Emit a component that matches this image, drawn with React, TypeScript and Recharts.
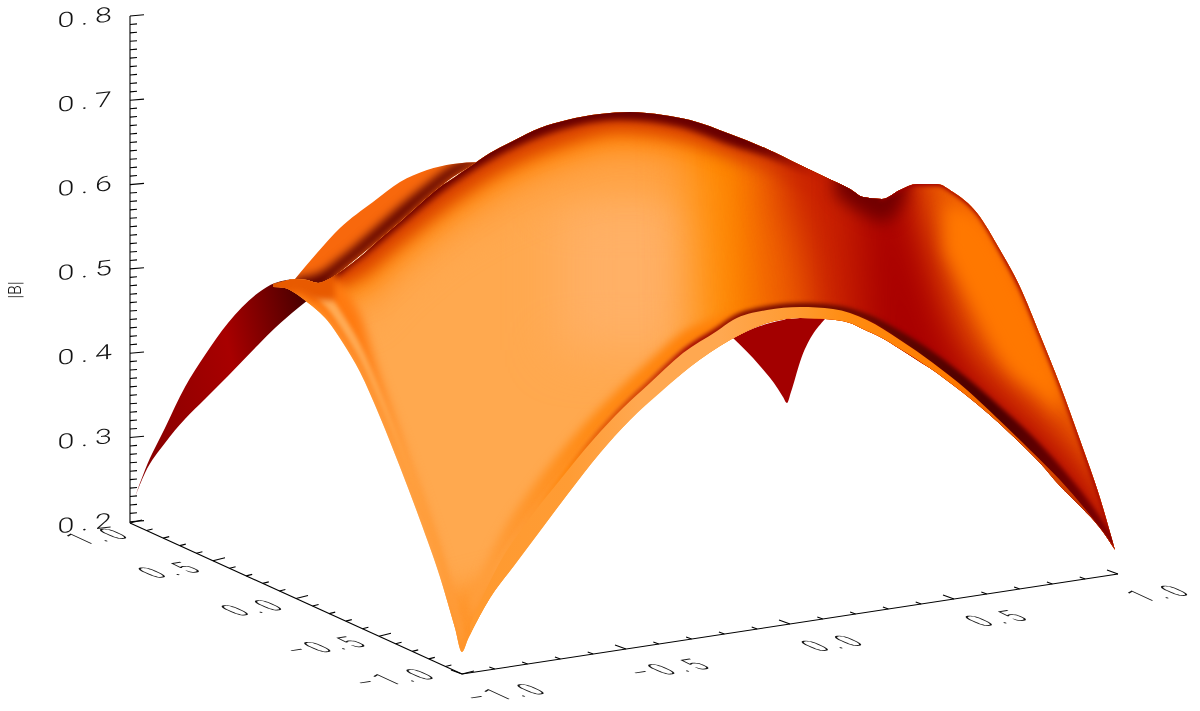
import { Area, ComposedChart, Line, XAxis, YAxis } from 'recharts';

// everything below as (screen column, screen row)
const yMajorValues = [0.2, 0.3, 0.4, 0.5, 0.6, 0.7, 0.8];
const floorValues = [1, 0.9, 0.8, 0.7, 0.6, 0.5, 0.4, 0.3, 0.2, 0.1, 0, -0.1, -0.2, -0.3, -0.4, -0.5, -0.6, -0.7, -0.8, -0.9, -1];
const floorLabels = ['1.0', '0.5', '0.0', '-0.5', '-1.0'];
const leftLabelValues = [1, 0.5, 0, -0.5, -1];

// main sheet
const mainX = [273, 285, 295, 307, 318, 327, 343, 360, 380, 400, 420, 440, 455, 462, 468, 490, 513, 540, 567, 600, 630, 663, 690, 730, 767, 800, 825, 850, 863, 882, 900, 917, 937, 953, 977, 1000, 1020, 1040, 1060, 1080, 1100, 1115];
const mainTop = [284, 281, 279, 280, 283, 280, 270, 257, 239, 222, 204, 187, 177, 172, 168, 153, 141, 128, 120, 114, 112, 115, 120, 134, 149, 165, 177, 189, 197, 199, 190, 184, 184, 192, 213, 250, 287, 335, 385, 440, 498, 550];
const mainBottom = [287, 288, 293, 302, 311, 320, 343, 372, 417, 467, 520, 577, 628, 652, 639, 598, 567, 531, 495, 453, 420, 390, 367, 340, 323, 318, 319, 323, 329, 338, 349, 360, 373, 385, 404, 424, 443, 463, 486, 506, 528, 550];

// left wing behind the sheet
const wingX = [135, 145, 165, 185, 205, 228, 258, 275, 298, 308];
const wingTop = [497, 470, 428, 387, 355, 323, 293, 283, 279, 282];
const wingBottom = [497, 473, 443, 419, 399, 376, 345, 328, 308, 300];

// back hump
const humpX = [295, 317, 340, 373, 400, 427, 453, 480];
const humpTop = [279, 253, 228, 202, 182, 170, 164, 162];
const humpBottom = [290, 290, 272, 245, 222, 198, 177, 162];
const humpShade = [278, 274, 258, 230, 206, 184, 165, 156];

// far corner seen under the arch
const cornerX = [733, 760, 778, 783, 787, 791, 800, 825];
const cornerTop = [338, 326, 321, 320, 319, 319, 318, 319];
const cornerBottom = [338, 366, 389, 397, 403, 392, 362, 319];

// shading along the top ridge
const ridgeX = [270, 320, 360, 400, 450, 500, 560, 620, 680, 730, 770, 820, 880];
const ridgeSky = [100, 100, 100, 100, 100, 100, 100, 100, 100, 100, 100, 100, 100];
const ridgePale = [290, 320, 325, 290, 250, 222, 198, 188, 198, 240, 275, 300, 300];
const ridgeOrange = [295, 298, 292, 258, 218, 186, 160, 146, 152, 178, 196, 225, 245];
const ridgeRed = [288, 290, 277, 245, 205, 172, 146, 132, 140, 158, 172, 198, 225];
const ridgeDark = [283, 283, 259, 226, 186, 155, 130, 120, 127, 145, 158, 180, 205];

// shading on the right half
const fadeX = [695, 715, 1125];
const fadeTop = [100, 100, 100];
const fadeBottom = [200, 700, 700];
const burntX = [745, 785, 1125];
const burntTop = [100, 100, 100];
const burntBottom = [160, 700, 700];
const redX = [785, 810, 835, 905, 915, 928, 945, 965, 1005, 1060, 1100, 1125];
const redTop = [100, 100, 100, 100, 195, 250, 300, 345, 385, 440, 490, 550];
const redBottom = [200, 300, 700, 700, 700, 700, 700, 700, 700, 700, 700, 700];
const deepX = [860, 885, 895, 910, 925, 950, 990, 1040, 1073, 1100, 1125];
const deepTop = [100, 100, 100, 205, 260, 335, 395, 440, 480, 515, 560];
const deepBottom = [210, 700, 700, 700, 700, 700, 700, 700, 700, 700, 700];
const saddleX = [835, 860, 885, 905];
const saddleTop = [100, 100, 100, 100];
const saddleBottom = [195, 212, 222, 198];
const highlightX = [945, 975, 1005, 1040, 1060];
const highlightTop = [205, 215, 255, 330, 380];
const highlightBottom = [250, 310, 365, 395, 415];
const edgeX = [880, 900, 917, 937, 953, 977, 1000, 1020, 1040, 1060, 1080, 1100, 1115];
const edgeTop = [190, 180, 175, 175, 183, 204, 241, 278, 326, 376, 431, 489, 542];
const edgeBottom = [201, 192, 186, 186, 194, 215, 253, 291, 339, 389, 445, 503, 554];

// fold along the arch
const creaseX = [470, 500, 530, 560, 593, 623, 650, 683, 717, 733, 767, 800, 833, 867, 900, 933, 967, 997, 1030, 1060, 1090, 1115];
const creaseRow = [625, 562, 518, 480, 440, 408, 383, 353, 331, 320, 310, 307, 309, 320, 340, 363, 390, 418, 450, 480, 515, 548];
const creaseBelow = [636, 588, 547, 507, 463, 428, 400, 373, 349, 339, 323, 318, 321, 333, 349, 371, 398, 424, 455, 488, 520, 550];
const shadeX = [470, 500, 530, 560, 593, 623, 650, 683, 717, 733, 767];
const shadeTop = [598, 535, 490, 452, 415, 385, 360, 332, 318, 312, 310];
const shadeBottom = [625, 562, 518, 480, 440, 408, 383, 353, 331, 320, 310];
const foldX = [500, 530, 560, 593, 623, 650, 683, 717, 733, 767, 800, 833, 867, 900, 933, 967, 997, 1030, 1060, 1090, 1115];
const foldTop = [558, 514, 476, 436, 404, 379, 349, 327, 316, 306, 303, 305, 314, 331, 352, 378, 404, 434, 466, 503, 540];
const foldBottom = [565, 521, 483, 443, 411, 386, 356, 334, 323, 313, 310, 312, 321, 342, 366, 393, 421, 453, 483, 518, 548];

// fold along the front left edge
const frontX = [285, 307, 327, 343, 360, 380, 400, 420, 440, 462];
const frontEdge = [288, 302, 320, 343, 372, 417, 467, 520, 577, 652];
const frontShade = [262, 268, 275, 288, 315, 375, 430, 485, 545, 620];
const frontStripeTop = [274, 278, 292, 315, 344, 389, 439, 492, 549, 630];
const frontStripeBottom = [280, 290, 308, 331, 360, 405, 455, 508, 565, 645];
const capX = [273, 295, 318, 335];
const capTop = [270, 270, 270, 270];
const capBottom = [292, 292, 300, 300];
const glowX = [560, 700];
const glowTop = [200, 200];
const glowBottom = [350, 350];
const tipX = [420, 540];
const tipTop = [600, 570];
const tipBottom = [670, 670];

const TOP_ROW = 16;
const PX_PER_UNIT = 843;
const toB = (row: number) => 0.8 - (row - TOP_ROW) / PX_PER_UNIT;

const toTable = (xs: number[], tops: number[], bottoms: number[]) =>
  xs.map((x, i) => ({ x, band: [toB(bottoms[i]), toB(tops[i])] }));

// same monotone tangents the areas are drawn with, so clip outlines line up with them
const tangents = (xs: number[], ys: number[]) => {
  const n = xs.length;
  const sign = (v: number) => (v < 0 ? -1 : 1);
  const t = xs.map(() => 0);
  for (let i = 1; i < n - 1; i++) {
    const h0 = xs[i] - xs[i - 1];
    const h1 = xs[i + 1] - xs[i];
    const s0 = (ys[i] - ys[i - 1]) / h0;
    const s1 = (ys[i + 1] - ys[i]) / h1;
    const p = (s0 * h1 + s1 * h0) / (h0 + h1);
    t[i] = (sign(s0) + sign(s1)) * Math.min(Math.abs(s0), Math.abs(s1), 0.5 * Math.abs(p)) || 0;
  }
  t[0] = (3 * (ys[1] - ys[0])) / (xs[1] - xs[0]) / 2 - t[1] / 2;
  t[n - 1] = (3 * (ys[n - 1] - ys[n - 2])) / (xs[n - 1] - xs[n - 2]) / 2 - t[n - 2] / 2;
  return t;
};

const curveForward = (xs: number[], ys: number[]) => {
  const t = tangents(xs, ys);
  let d = '';
  for (let i = 1; i < xs.length; i++) {
    const dx = (xs[i] - xs[i - 1]) / 3;
    d += `C${xs[i - 1] + dx},${ys[i - 1] + dx * t[i - 1]},${xs[i] - dx},${ys[i] - dx * t[i]},${xs[i]},${ys[i]}`;
  }
  return d;
};

const clipShape = (id: string, xs: number[], tops: number[], bottoms: number[]) => {
  const rx = [...xs].reverse().map((x) => -x);
  const rb = [...bottoms].reverse();
  const back = curveForward(rx, rb).replace(/C([^C]*)/g, (_, s: string) => {
    const v = s.split(',').map(Number);
    return `C${-v[0]},${v[1]},${-v[2]},${v[3]},${-v[4]},${v[5]}`;
  });
  const d = `M${xs[0]},${tops[0]}${curveForward(xs, tops)}L${xs[xs.length - 1]},${rb[0]}${back}Z`;
  return (
    <clipPath id={id} key={id}>
      <path d={d} />
    </clipPath>
  );
};

const blurFilter = (size: number) => (
  <filter id={`blur${size}`} key={size} filterUnits="userSpaceOnUse" x="0" y="0" width="1200" height="711" colorInterpolationFilters="sRGB">
    <feGaussianBlur stdDeviation={size} />
  </filter>
);

const sheet = (
  name: string,
  xs: number[],
  tops: number[],
  bottoms: number[],
  fill: string,
  blur?: number,
  clip?: string,
) => (
  <Area
    key={name}
    data={toTable(xs, tops, bottoms)}
    dataKey="band"
    type="monotoneX"
    fill={fill}
    fillOpacity={1}
    stroke="none"
    dot={false}
    activeDot={false}
    isAnimationActive={false}
    style={{
      filter: blur ? `url(#blur${blur})` : undefined,
      clipPath: clip ? `url(#${clip})` : undefined,
    }}
  />
);

// floor axes, ends
const leftEnd = { x: 130, row: 523 };
const cornerEnd = { x: 462, row: 674 };
const rightEnd = { x: 1118, row: 574 };

const onLeft = (v: number) => ({
  x: leftEnd.x + ((1 - v) / 2) * (cornerEnd.x - leftEnd.x),
  row: leftEnd.row + ((1 - v) / 2) * (cornerEnd.row - leftEnd.row),
});
const onFront = (v: number) => ({
  x: cornerEnd.x + ((v + 1) / 2) * (rightEnd.x - cornerEnd.x),
  row: cornerEnd.row + ((v + 1) / 2) * (rightEnd.row - cornerEnd.row),
});
const isMajor = (v: number) => Math.abs(v * 2 - Math.round(v * 2)) < 1e-6;

const leftTicks = floorValues.flatMap((v) => {
  const p = onLeft(v);
  const len = isMajor(v) ? 1 : 0.5;
  return [
    { x: p.x, b: toB(p.row) },
    { x: p.x + 12 * len, b: toB(p.row - 3 * len) },
    { x: p.x, b: null },
  ];
});
const frontTicks = floorValues.flatMap((v) => {
  const p = onFront(v);
  const len = isMajor(v) ? 1 : 0.5;
  return [
    { x: p.x, b: toB(p.row) },
    { x: p.x - 11 * len, b: toB(p.row - 4 * len) },
    { x: p.x, b: null },
  ];
});
const leftLine = [1, -1].map((v) => ({ x: onLeft(v).x, b: toB(onLeft(v).row) }));
const frontLine = [-1, 1].map((v) => ({ x: onFront(v).x, b: toB(onFront(v).row) }));
const spine = [toB(523), 0.8].map((b) => ({ x: 130, b }));
const yMinorTicks = Array.from({ length: 60 }, (_, i) => i)
  .filter((i) => i % 10 !== 0)
  .flatMap((i) => {
    const b = 0.8 - i / 100;
    return [
      { x: 130, b },
      { x: 137, b: b + 0.6 / PX_PER_UNIT },
      { x: 130, b: null },
    ];
  });

const LEFT_NUDGE = [[-30, 13], [-41, 9], [-41, 9], [-52, 9.5], [-66, 4]];
const leftMarks = leftLabelValues.map((v, i) => ({ x: onLeft(v).x, b: toB(onLeft(v).row), label: floorLabels[i], dx: LEFT_NUDGE[i][0], dy: LEFT_NUDGE[i][1] }));
const frontMarks = [-1, -0.5, 0, 0.5, 1].map((v) => ({
  x: onFront(v).x,
  b: toB(onFront(v).row),
  label: v.toFixed(1),
  dx: v === 1 ? 43 : 45,
  dy: 19,
}));

const LABEL_FONT = 'Roboto, "Liberation Sans", sans-serif';

const FloorLabel = (props: any) => {
  const { cx, cy, payload, index } = props;
  if (cx == null || cy == null) return <g key={index} />;
  const m = `matrix(1.6 -0.24 1.9 0.86 ${cx + payload.dx} ${cy + payload.dy})`;
  return (
    <text key={index} transform={m} y={5.5} textAnchor="middle" fontFamily={LABEL_FONT} fontWeight={300} fontSize={16} letterSpacing={4} fill="#111" opacity={0.99}>
      {payload.label.replace('-', '\u2212')}
    </text>
  );
};

const YTick = (props: any) => {
  const { x, y, payload } = props;
  return (
    <g>
      <line x1={x} y1={y} x2={x + 14} y2={y - 1.2} stroke="#000" strokeWidth={1.1} />
      <text
        transform={`matrix(1.9 -0.22 0 1.3 88 ${y + 1})`}
        y={5.5}
        textAnchor="middle"
        fontFamily={LABEL_FONT}
        fontWeight={300}
        fontSize={16}
        letterSpacing={3.5}
        fill="#111"
        opacity={0.99}
      >
        {payload.value.toFixed(1)}
      </text>
    </g>
  );
};

const axisLine = (name: string, data: any[]) => (
  <Line key={name} data={data} dataKey="b" stroke="#000" strokeWidth={1.1} dot={false} activeDot={false} isAnimationActive={false} />
);

const App = () => {
  const mainClip = 'mainClip';
  const humpClip = 'humpClip';
  return (
    <div style={{ position: 'absolute', left: 0, top: 0, width: 1200, height: 711, background: '#fff' }}>
      <ComposedChart width={1200} height={711} margin={{ top: TOP_ROW, right: 0, bottom: 0, left: 0 }}>
        <defs>
          {[2, 3, 5, 8, 14, 20, 25].map(blurFilter)}
          {clipShape(mainClip, mainX, mainTop, mainBottom)}
          {clipShape(humpClip, humpX, humpTop, humpBottom)}
          <linearGradient id="wingFill" gradientUnits="userSpaceOnUse" x1="135" y1="380" x2="310" y2="340">
            <stop offset="0" stopColor="#8a0000" />
            <stop offset="0.55" stopColor="#a80000" />
            <stop offset="1" stopColor="#4e0000" />
          </linearGradient>
          <linearGradient id="rimFill" gradientUnits="userSpaceOnUse" x1="480" x2="1115" y1="0" y2="0">
            <stop offset="0" stopColor="#ff9a30" />
            <stop offset="0.14" stopColor="#ff9c34" />
            <stop offset="0.25" stopColor="#ffa850" />
            <stop offset="0.38" stopColor="#ffa850" />
            <stop offset="0.5" stopColor="#ff9a30" />
            <stop offset="0.58" stopColor="#ff8c10" />
            <stop offset="0.74" stopColor="#ff7a00" />
            <stop offset="0.87" stopColor="#e05000" />
            <stop offset="1" stopColor="#b02000" />
          </linearGradient>
          <linearGradient id="shadeFill" gradientUnits="userSpaceOnUse" x1="470" x2="767" y1="0" y2="0">
            <stop offset="0" stopColor="#ffa040" />
            <stop offset="0.4" stopColor="#ff8a14" />
            <stop offset="1" stopColor="#ff7a00" />
          </linearGradient>
          <linearGradient id="foldFill" gradientUnits="userSpaceOnUse" x1="500" x2="1115" y1="0" y2="0">
            <stop offset="0" stopColor="#ff9e3a" />
            <stop offset="0.06" stopColor="#ff9428" />
            <stop offset="0.11" stopColor="#ff8000" />
            <stop offset="0.16" stopColor="#e05000" />
            <stop offset="0.24" stopColor="#c83000" />
            <stop offset="0.31" stopColor="#a00000" />
            <stop offset="0.42" stopColor="#7a0c00" />
            <stop offset="0.8" stopColor="#4a0000" />
            <stop offset="1" stopColor="#800000" />
          </linearGradient>
          <linearGradient id="frontFill" gradientUnits="userSpaceOnUse" x1="0" x2="0" y1="320" y2="640">
            <stop offset="0" stopColor="#ff7a10" />
            <stop offset="0.45" stopColor="#ff9a38" />
            <stop offset="1" stopColor="#ff9c3a" />
          </linearGradient>
          <linearGradient id="stripeFill" gradientUnits="userSpaceOnUse" x1="0" x2="0" y1="330" y2="640">
            <stop offset="0" stopColor="#ffab55" />
            <stop offset="0.4" stopColor="#ffa040" />
            <stop offset="1" stopColor="#ff9a35" />
          </linearGradient>
        </defs>
        <XAxis type="number" dataKey="x" domain={[130, 1200]} hide />
        <YAxis
          type="number"
          width={130}
          domain={[toB(711), 0.8]}
          ticks={yMajorValues}
          interval={0}
          axisLine={false}
          tickLine={false}
          tickSize={0}
          tickMargin={0}
          tick={<YTick />}
          label={() => (
            <text transform="translate(21 290) rotate(-90) scale(1 1.2)" textAnchor="middle" fontFamily={LABEL_FONT} fontWeight={300} fontSize={16} fill="#111" opacity={0.99}>
              |B|
            </text>
          )}
        />

        {axisLine('spine', spine)}
        {axisLine('yMinor', yMinorTicks)}
        {axisLine('leftLine', leftLine)}
        {axisLine('frontLine', frontLine)}
        {axisLine('leftTicks', leftTicks)}
        {axisLine('frontTicks', frontTicks)}

        {sheet('wing', wingX, wingTop, wingBottom, 'url(#wingFill)')}
        {sheet('hump', humpX, humpTop, humpBottom, '#f8680c')}
        {sheet('humpShade', humpX, humpShade, humpBottom, '#5a0000', 5, humpClip)}
        {sheet('corner', cornerX, cornerTop, cornerBottom, '#a30000')}

        {sheet('main', mainX, mainTop, mainBottom, '#ffa94f')}
        {sheet('glow', glowX, glowTop, glowBottom, '#ffb066', 25, mainClip)}
        {sheet('tip', tipX, tipTop, tipBottom, '#ff9428', 14, mainClip)}
        {sheet('ridgePale', ridgeX, ridgeSky, ridgePale, '#ffa244', 14, mainClip)}
        {sheet('ridgeOrange', ridgeX, ridgeSky, ridgeOrange, '#ff8000', 14, mainClip)}
        {sheet('fade', fadeX, fadeTop, fadeBottom, '#ff8a00', 25, mainClip)}
        {sheet('burnt', burntX, burntTop, burntBottom, '#f06000', 20, mainClip)}
        {sheet('ridgeRed', ridgeX, ridgeSky, ridgeRed, '#d84000', 8, mainClip)}
        {sheet('ridgeDark', ridgeX, ridgeSky, ridgeDark, '#6a0000', 3, mainClip)}
        {sheet('red', redX, redTop, redBottom, '#c82000', 20, mainClip)}
        {sheet('deep', deepX, deepTop, deepBottom, '#a80000', 20, mainClip)}
        {sheet('saddle', saddleX, saddleTop, saddleBottom, '#720000', 8, mainClip)}
        {sheet('highlight', highlightX, highlightTop, highlightBottom, '#ff7800', 8, mainClip)}
        {sheet('edge', edgeX, edgeTop, edgeBottom, '#a00000', 2, mainClip)}
        {sheet('shade', shadeX, shadeTop, shadeBottom, 'url(#shadeFill)', 5, mainClip)}
        {sheet('fold', foldX, foldTop, foldBottom, 'url(#foldFill)', 2, mainClip)}
        {sheet('rim', creaseX, creaseRow, creaseBelow, 'url(#rimFill)', undefined, mainClip)}
        {sheet('frontShade', frontX, frontShade, frontEdge, 'url(#frontFill)', 5, mainClip)}
        {sheet('frontStripe', frontX, frontStripeTop, frontStripeBottom, 'url(#stripeFill)', 2, mainClip)}
        {sheet('cap', capX, capTop, capBottom, '#e85a00', 3, mainClip)}

        <Line data={leftMarks} dataKey="b" stroke="none" dot={<FloorLabel />} activeDot={false} isAnimationActive={false} />
        <Line data={frontMarks} dataKey="b" stroke="none" dot={<FloorLabel />} activeDot={false} isAnimationActive={false} />
      </ComposedChart>
    </div>
  );
};

export default App;
